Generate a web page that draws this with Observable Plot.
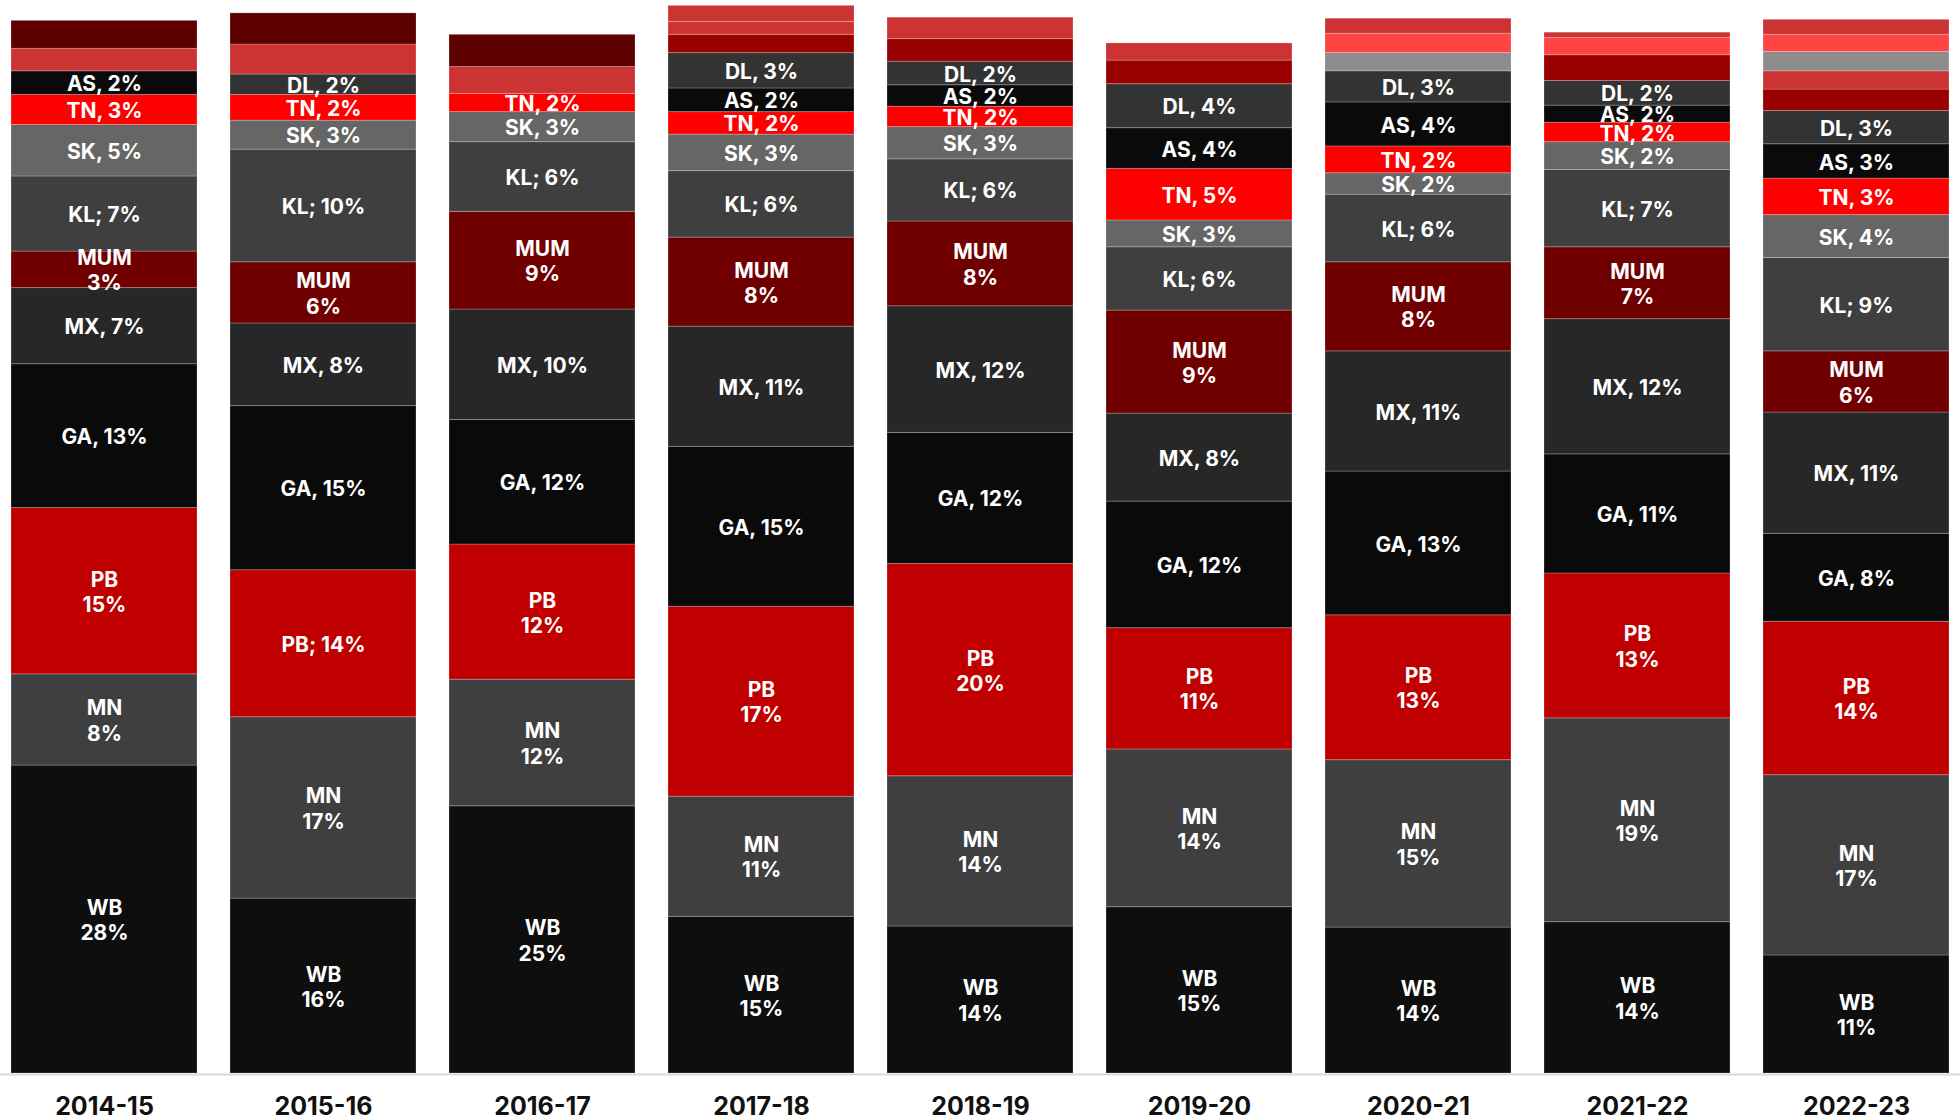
<!DOCTYPE html>
<html>
<head>
<meta charset="utf-8">
<script src="https://cdn.jsdelivr.net/npm/d3@7"></script>
<script src="https://cdn.jsdelivr.net/npm/@observablehq/plot@0.6"></script>
<style>
  html, body { margin: 0; padding: 0; background: #fff; overflow: hidden; }
  #chart svg { display: block; max-width: none !important; }
</style>
</head>
<body>
<div id="chart"></div>
<script>
// ---- Data ----
const years = ["2014-15","2015-16","2016-17","2017-18","2018-19","2019-20","2020-21","2021-22","2022-23"];

// stacking order, bottom to top ("O*" are the unlabeled small segments at the top)
const series = ["WB","MN","PB","GA","MX","MUM","KL","SK","TN","AS","DL","O1","O2","O3","O4","O5","O6"];

const WB  = [28.7, 16.3, 24.9, 14.6, 13.7, 15.5, 13.6, 14.1, 11.0];
const MN  = [ 8.5, 16.9, 11.8, 11.2, 14.0, 14.7, 15.6, 19.0, 16.8];
const PB  = [15.5, 13.7, 12.6, 17.7, 19.8, 11.3, 13.5, 13.5, 14.3];
const GA  = [13.4, 15.3, 11.6, 14.9, 12.2, 11.8, 13.4, 11.1,  8.2];
const MX  = [ 7.1,  7.7, 10.3, 11.2, 11.8,  8.2, 11.2, 12.6, 11.3];
const MUM = [ 3.4,  5.7,  9.1,  8.3,  7.9,  9.6,  8.3,  6.7,  5.7];
const KL  = [ 7.0, 10.5,  6.5,  6.2,  5.8,  5.9,  6.3,  7.2,  8.7];
const SK  = [ 4.8,  2.7,  2.8,  3.4,  3.0,  2.5,  2.0,  2.6,  4.0];
const TN  = [ 2.8,  2.4,  1.7,  2.1,  1.9,  4.8,  2.5,  1.8,  3.4];
const AS  = [ 2.2, null, null,  2.2,  2.0,  3.8,  4.1,  1.6,  3.2];
const DL  = [null,  1.9, null,  3.3,  2.2,  4.1,  2.9,  2.3,  3.1];
const O1  = [null, null, null,  1.7,  2.1,  2.2, null,  2.4,  2.0];
const O2  = [null, null, null,  1.2, null, null, null, null,  1.7];
const O3  = [null, null, null, null, null, null,  1.7, null,  1.8];
const O4  = [null, null, null, null, null, null,  1.8,  1.6,  1.6];
const O5  = [ 2.1,  2.8,  2.5,  1.5,  2.0,  1.6,  1.4,  0.5,  1.4];
const O6  = [ 2.6,  2.9,  3.0, null, null, null, null, null, null];

const WB_lbl  = ["WB\n28%","WB\n16%","WB\n25%","WB\n15%","WB\n14%","WB\n15%","WB\n14%","WB\n14%","WB\n11%"];
const MN_lbl  = ["MN\n8%","MN\n17%","MN\n12%","MN\n11%","MN\n14%","MN\n14%","MN\n15%","MN\n19%","MN\n17%"];
const PB_lbl  = ["PB\n15%","PB; 14%","PB\n12%","PB\n17%","PB\n20%","PB\n11%","PB\n13%","PB\n13%","PB\n14%"];
const GA_lbl  = ["GA, 13%","GA, 15%","GA, 12%","GA, 15%","GA, 12%","GA, 12%","GA, 13%","GA, 11%","GA, 8%"];
const MX_lbl  = ["MX, 7%","MX, 8%","MX, 10%","MX, 11%","MX, 12%","MX, 8%","MX, 11%","MX, 12%","MX, 11%"];
const MUM_lbl = ["MUM\n3%","MUM\n6%","MUM\n9%","MUM\n8%","MUM\n8%","MUM\n9%","MUM\n8%","MUM\n7%","MUM\n6%"];
const KL_lbl  = ["KL; 7%","KL; 10%","KL; 6%","KL; 6%","KL; 6%","KL; 6%","KL; 6%","KL; 7%","KL; 9%"];
const SK_lbl  = ["SK, 5%","SK, 3%","SK, 3%","SK, 3%","SK, 3%","SK, 3%","SK, 2%","SK, 2%","SK, 4%"];
const TN_lbl  = ["TN, 3%","TN, 2%","TN, 2%","TN, 2%","TN, 2%","TN, 5%","TN, 2%","TN, 2%","TN, 3%"];
const AS_lbl  = ["AS, 2%",null,null,"AS, 2%","AS, 2%","AS, 4%","AS, 4%","AS, 2%","AS, 3%"];
const DL_lbl  = [null,"DL, 2%",null,"DL, 3%","DL, 2%","DL, 4%","DL, 3%","DL, 2%","DL, 3%"];

// ---- Styles ----
const colors = {
  WB: "#0e0e0e", MN: "#3f3f3f", PB: "#c00000", GA: "#0a0a0a", MX: "#272727",
  MUM: "#700000", KL: "#3f3f3f", SK: "#666666", TN: "#ff0000", AS: "#0a0a0a",
  DL: "#333333", O1: "#990000", O2: "#cc3333", O3: "#8c8c8c", O4: "#ff4444",
  O5: "#cc3333", O6: "#5c0000"
};

const valuesBy = {WB, MN, PB, GA, MX, MUM, KL, SK, TN, AS, DL, O1, O2, O3, O4, O5, O6};
const labelsBy = {WB: WB_lbl, MN: MN_lbl, PB: PB_lbl, GA: GA_lbl, MX: MX_lbl, MUM: MUM_lbl,
  KL: KL_lbl, SK: SK_lbl, TN: TN_lbl, AS: AS_lbl, DL: DL_lbl};

const rows = [];
for (const s of series) {
  years.forEach((yr, i) => {
    const v = valuesBy[s][i];
    if (v == null) return;
    rows.push({year: yr, series: s, value: v, label: labelsBy[s] ? labelsBy[s][i] : null});
  });
}

const chart = Plot.plot({
  width: 1960,
  height: 1120,
  marginTop: 0,
  marginBottom: 47,
  marginLeft: 11,
  marginRight: 11,
  style: {background: "#fff", fontFamily: "Inter, 'Open Sans', sans-serif"},
  x: {domain: years, paddingInner: 0.151, paddingOuter: 0, label: null},
  y: {domain: [0, 100], axis: null},
  color: {domain: series, range: series.map(s => colors[s])},
  marks: [
    Plot.barY(rows, Plot.stackY({
      x: "year", y: "value", z: "series", order: series, fill: "series",
      stroke: "#ffffff", strokeOpacity: 0.22, strokeWidth: 1
    })),
    Plot.text(rows, Plot.stackY({
      x: "year", y: "value", z: "series", order: series,
      text: "label", filter: d => d.label != null,
      fill: "#ffffff", fontSize: 21, fontWeight: 700, lineHeight: 1.2
    })),
    Plot.ruleY([0], {stroke: "#d9d9d9", strokeWidth: 2, dy: 1, insetLeft: -11, insetRight: -11}),
    Plot.axisX({tickSize: 0, tickPadding: 24, fontSize: 25, fontWeight: 700, fill: "#111", label: null})
  ]
});
document.getElementById("chart").appendChild(chart);
</script>
</body>
</html>
